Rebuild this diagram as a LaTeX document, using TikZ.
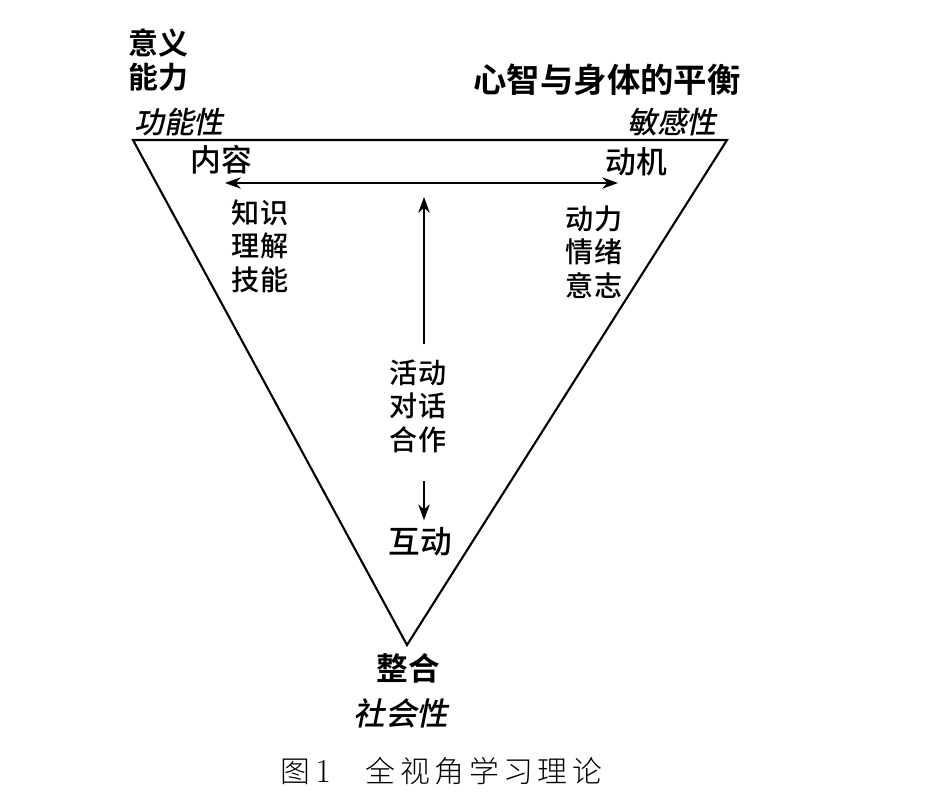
\documentclass[tikz,border=0pt]{standalone}
\usepackage{fontspec}
\usetikzlibrary{arrows.meta}
\newfontfamily\cjk{Noto Sans CJK SC Medium}
\newfontfamily\cjkbf{Noto Sans CJK SC Bold}
\newfontfamily\cjkit[FakeSlant=0.2]{Noto Sans CJK SC Medium}
\newfontfamily\cjkcap[LetterSpace=15]{Noto Sans CJK SC Light}
\tikzset{
  lbl/.style={font=\cjk\fontsize{#1}{19}\selectfont, inner sep=0pt, align=center},
  lbl/.default=16,
  boldlbl/.style={font=\cjkbf\fontsize{#1}{19.8}\selectfont, inner sep=0pt, align=left},
  boldlbl/.default=17,
  slantlbl/.style={font=\cjkit\fontsize{#1}{19}\selectfont, inner sep=0pt},
  slantlbl/.default=17,
  side/.style={line width=1.2pt, line join=miter},
  link/.style={line width=1pt, -{Stealth[length=9pt,width=6.5pt]}},
  twolink/.style={line width=1pt, {Stealth[length=9pt,width=6.5pt]}-{Stealth[length=9pt,width=6.5pt]}}
}
\begin{document}
\begin{tikzpicture}[x=0.02cm,y=-0.02cm]
	\useasboundingbox (0,0) rectangle (935,800);
	\coordinate (tl) at (133,140);
	\coordinate (tr) at (727,140);
	\coordinate (bot) at (407,645);
	\draw[side] (tl)--(tr)--(bot)--cycle;
	\node[boldlbl] (meaning) at (158,60) {意义\\能力};
	\node[boldlbl=19] (balance) at (607,80) {心智与身体的平衡};
	\node[slantlbl] (function) at (179,122) {功能性};
	\node[slantlbl] (sense) at (672,122) {敏感性};
	\node[lbl=17.5] (content) at (221,160) {内容};
	\node[lbl=17.5] (motive) at (636,162) {动机};
	\node[lbl] (know) at (260,246) {知识\\理解\\技能};
	\node[lbl] (drive) at (594,252) {动力\\情绪\\意志};
	\node[lbl] (act) at (418,406) {活动\\对话\\合作};
	\node[lbl=18] (inter) at (420,542) {互动};
	\node[boldlbl=18] (integ) at (408,668) {整合};
	\node[slantlbl=18] (social) at (401,713) {社会性};
	\node[inner sep=0pt, font=\cjkcap\fontsize{17}{19}\selectfont] (caption) at (441,771)
		{图{\rmfamily\fontsize{19}{19}\selectfont\,1}\hspace{20pt}全视角学习理论};
	\coordinate (cl) at (225,183);
	\coordinate (cr) at (618,183);
	\coordinate (hub) at (424,197);
	\draw[twolink] (cl)--(cr);
	\draw[link] (act.north -| hub) ++(0,-15) -- (hub);
	\draw[link,shorten <=16pt,shorten >=4pt] (act.south -| hub)--(inter.north -| hub);
\end{tikzpicture}
\end{document}
